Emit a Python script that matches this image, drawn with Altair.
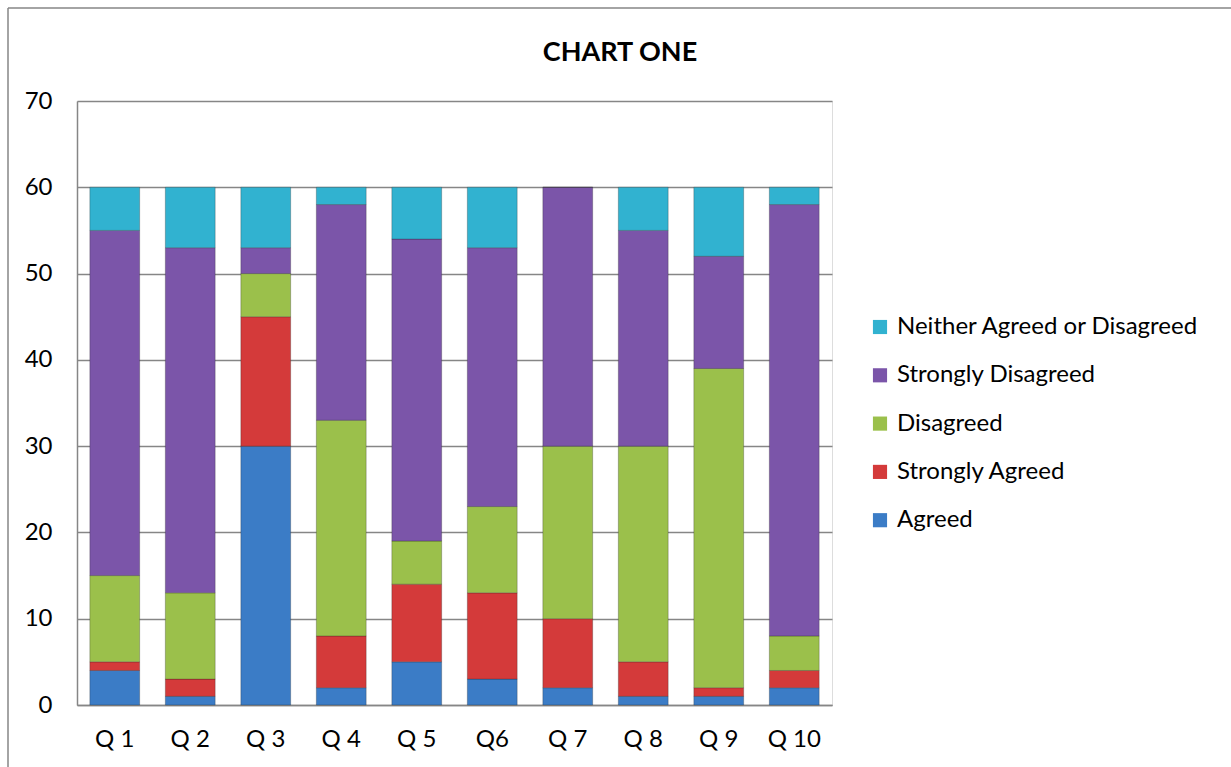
import altair as alt
import pandas as pd

questions = ["Q 1", "Q 2", "Q 3", "Q 4", "Q 5", "Q6", "Q 7", "Q 8", "Q 9", "Q 10"]
agreed = [4, 1, 30, 2, 5, 3, 2, 1, 1, 2]
strongly_agreed = [1, 2, 15, 6, 9, 10, 8, 4, 1, 2]
disagreed = [10, 10, 5, 25, 5, 10, 20, 25, 37, 4]
strongly_disagreed = [40, 40, 3, 25, 35, 30, 30, 25, 13, 50]
neither = [5, 7, 7, 2, 6, 7, 0, 5, 8, 2]

series = ["Agreed", "Strongly Agreed", "Disagreed", "Strongly Disagreed", "Neither Agreed or Disagreed"]
colors = ["#3B7CC6", "#D43A3A", "#9BC04B", "#7B55A9", "#31B2D0"]
values = [agreed, strongly_agreed, disagreed, strongly_disagreed, neither]

rows = []
for si, (name, vals) in enumerate(zip(series, values)):
    for q, v in zip(questions, vals):
        rows.append({"Question": q, "Series": name, "Value": v, "order": si})
df = pd.DataFrame(rows)

FONT = "Lato"

bars = alt.Chart(df).mark_bar(stroke="#222222", strokeOpacity=0.35, strokeWidth=0.8).encode(
    x=alt.X("Question:N", sort=questions, title=None,
            scale=alt.Scale(paddingInner=0.34, paddingOuter=0.17),
            axis=alt.Axis(labelAngle=0, ticks=False, labelPadding=22, labelFontSize=24,
                          labelFont=FONT, labelColor="#000000", domainColor="#868686",
                          domainWidth=1.5, grid=False)),
    y=alt.Y("Value:Q", stack="zero", title=None,
            scale=alt.Scale(domain=[0, 70]),
            axis=alt.Axis(values=[0, 10, 20, 30, 40, 50, 60, 70], ticks=False, labelPadding=25,
                          labelFontSize=24, labelFont=FONT, labelColor="#000000",
                          domainColor="#868686", domainWidth=1.5, gridColor="#868686",
                          gridWidth=1.5)),
    color=alt.Color("Series:N", scale=alt.Scale(domain=series, range=colors),
                    sort=series[::-1],
                    legend=alt.Legend(title=None, orient="none", legendX=791, legendY=214,
                                      symbolType="square", symbolSize=200, labelFontSize=24,
                                      labelFont=FONT, labelColor="#000000", rowPadding=24.3,
                                      symbolStrokeWidth=0, labelOffset=5, labelLimit=500,
                                      values=series[::-1])),
    order=alt.Order("order:Q", sort="ascending"),
)

border = pd.DataFrame({"x": [0]})
top_border = alt.Chart(border).mark_rule(color="#868686", strokeWidth=1.5).encode(
    x=alt.value(-69), x2=alt.value(1160), y=alt.value(-93))
left_border = alt.Chart(border).mark_rule(color="#868686", strokeWidth=1.5).encode(
    x=alt.value(-69), y=alt.value(-93), y2=alt.value(700))
title = alt.Chart(border).mark_text(font=FONT, fontSize=27, fontWeight="bold", color="#000000",
                                   align="center", baseline="middle").encode(
    x=alt.value(543), y=alt.value(-48), text=alt.value("CHART ONE"))

chart = alt.layer(bars, top_border, left_border, title).properties(
    width=755, height=604,
    autosize=alt.AutoSizeParams(type="none"),
    padding={"left": 77, "top": 101, "right": 399, "bottom": 62},
).configure_view(stroke=None).configure(background="white")

chart.save("out.html", embed_options={"renderer": "svg", "actions": False})
